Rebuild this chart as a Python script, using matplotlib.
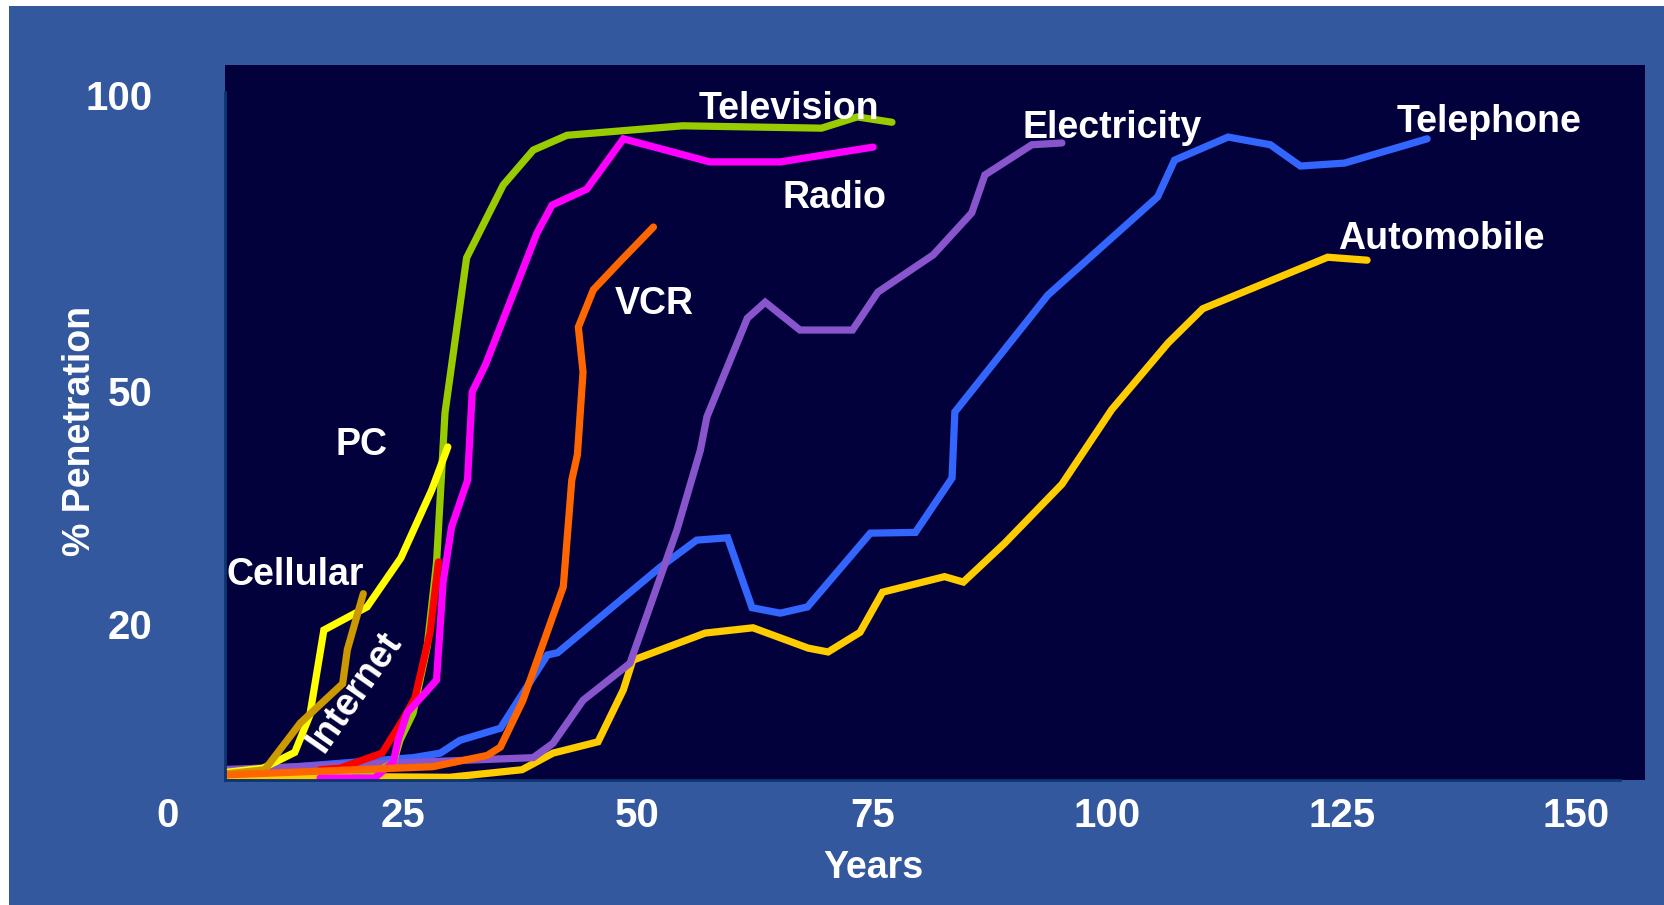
import numpy as np
import matplotlib.pyplot as plt
from matplotlib.patches import Rectangle
import matplotlib.transforms as mtransforms

plt.rcParams['font.family'] = ['Liberation Sans', 'DejaVu Sans']
plt.rcParams['font.weight'] = 'bold'

# --- Données (années depuis l'invention, % de pénétration) ---
tv_years = [20, 22.6, 24.0, 24.7, 26.1, 27.6, 28.6, 29.5, 31.8, 35.7, 38.9, 42.5, 54.8, 69.6, 73.4, 77.1]
tv_pct = [0.3, 0.7, 1.6, 4.6, 8.2, 17.0, 27.9, 47.2, 72.5, 84.8, 90.7, 93.2, 94.8, 94.4, 96.3, 95.4]

radio_years = [16.2, 22.0, 24.0, 24.5, 25.5, 27.7, 28.6, 29.3, 30.2, 31.9, 32.4, 33.8, 39.3, 40.9, 44.6, 48.5, 57.7, 65.2, 75.1]
radio_pct = [-0.4, -0.4, 1.7, 4.6, 8.3, 11.3, 12.6, 25.4, 32.5, 38.5, 49.9, 54.4, 76.7, 81.4, 84.1, 92.6, 88.7, 88.7, 91.2]

vcr_years = [5.8, 28.2, 34.0, 35.4, 37.8, 42.1, 43.0, 43.6, 44.2, 43.7, 45.3, 48.1, 51.7]
vcr_pct = [0.0, 1.1, 2.6, 3.7, 9.9, 24.8, 38.5, 41.8, 53.2, 60.8, 67.1, 71.8, 77.7]

elec_years = [5.5, 38.9, 41.0, 44.2, 49.2, 54.2, 56.7, 57.4, 61.7, 63.6, 67.3, 72.9, 75.6, 81.5, 85.6, 87.0, 92.0, 95.2]
elec_pct = [0.7, 2.3, 4.2, 9.9, 14.8, 32.1, 42.4, 46.7, 62.3, 65.0, 60.3, 60.3, 66.7, 73.0, 80.1, 86.5, 91.6, 91.9]

tel_years = [5.2, 26.1, 29.0, 31.1, 35.4, 40.4, 41.5, 52.4, 56.3, 59.6, 62.2, 65.2, 68.1, 74.8, 79.6, 83.5, 83.8,
             93.7, 105.4, 107.2, 112.9, 117.4, 120.6, 125.3, 134.1]
tel_pct = [0.3, 2.3, 2.9, 4.6, 6.2, 15.9, 16.2, 27.3, 30.8, 31.1, 22.1, 21.4, 22.2, 31.7, 31.8, 38.8, 47.3,
           66.2, 82.8, 89.0, 92.9, 91.6, 88.0, 88.5, 92.6]

auto_years = [5.5, 30.0, 37.7, 41.0, 45.8, 48.5, 49.5, 57.2, 62.3, 68.2, 70.3, 73.7, 76.1, 82.7, 84.7, 89.1,
              95.2, 100.5, 106.5, 110.2, 123.5, 127.7]
auto_pct = [-0.1, -0.3, 0.7, 2.9, 4.4, 11.3, 15.2, 18.8, 19.5, 16.8, 16.3, 18.9, 24.1, 26.1, 25.4, 30.4,
            38.0, 47.6, 58.1, 63.9, 72.6, 72.1]

pc_years = [5.8, 10.1, 13.5, 15.1, 16.6, 21.2, 24.8, 28.1, 29.8]
pc_pct = [0.3, 0.9, 3.0, 7.9, 19.2, 22.2, 28.5, 37.3, 42.8]

cell_years = [5.8, 10.3, 14.1, 18.6, 19.1, 20.8]
cell_pct = [0.1, 0.7, 6.9, 12.1, 16.6, 23.9]

internet_years = [16.2, 18.3, 22.8, 25.0, 26.3, 27.9, 28.8]
internet_pct = [0.7, 0.9, 2.9, 7.3, 10.2, 18.8, 28.0]

# (nom, années, valeurs, couleur), dans l'ordre de dessin
series = [
    ("Automobile", auto_years, auto_pct, '#FFCC00'),
    ("Telephone", tel_years, tel_pct, '#3366FF'),
    ("Electricity", elec_years, elec_pct, '#8855CC'),
    ("Television", tv_years, tv_pct, '#99CC00'),
    ("Internet", internet_years, internet_pct, '#FF0000'),
    ("Radio", radio_years, radio_pct, '#FF00FF'),
    ("PC", pc_years, pc_pct, '#FFFF00'),
    ("Cellular", cell_years, cell_pct, '#CC9900'),
    ("VCR", vcr_years, vcr_pct, '#FF6600'),
]

# étiquettes (x, y en données, rotation)
labels = {
    "Television": (66.1, 97.6, 0),
    "Radio": (71.0, 82.6, 0),
    "VCR": (51.8, 64.7, 0),
    "Electricity": (100.6, 94.5, 0),
    "Telephone": (140.7, 95.4, 0),
    "Automobile": (135.6, 75.6, 0),
    "PC": (20.6, 43.0, 0),
    "Cellular": (13.5, 26.3, 0),
    "Internet": (19.9, 11.0, 55),
}

y_ticks = [20, 50, 100]
x_ticks = [25, 50, 75, 100, 125, 150]

# --- échelle verticale non linéaire (comme sur la diapo) ---
knot_vals = np.array([-10, 0, 20, 50, 100, 120], dtype=float)
knot_pos = np.array([-75.5, 0, 151, 384, 680, 798.4])

def fwd(v):
    return np.interp(v, knot_vals, knot_pos)

def inv(p):
    return np.interp(p, knot_pos, knot_vals)

fig = plt.figure(figsize=(16.65, 9.05), dpi=100, facecolor='white')
fig.patches.append(Rectangle((9 / 1665, 0), 1 - 9 / 1665, 1 - 6 / 905, transform=fig.transFigure,
                             facecolor='#33589E', edgecolor='none', zorder=-5))

ax = fig.add_axes([225 / 1665, 1 - 780 / 905, 1420 / 1665, 715 / 905])
ax.set_facecolor('#03013B')
ax.set_yscale('function', functions=(fwd, inv))
ax.set_xlim(6.07, 157.3)
ax.set_ylim(-0.66, 105.07)

for nom, xs, ys, col in series:
    ax.plot(xs, ys, color=col, lw=5.2, solid_capstyle='round', solid_joinstyle='miter')

for nom, (lx, ly, rot) in labels.items():
    ax.text(lx, ly, nom, color='white', fontsize=27, fontweight='bold',
            ha='center', va='center', rotation=rot)

ax.set_xticks(x_ticks)
ax.set_xticklabels([str(t) for t in x_ticks])
ax.set_yticks(y_ticks)
ax.set_yticklabels([str(t) for t in y_ticks])
ax.yaxis.set_minor_locator(plt.NullLocator())
ax.xaxis.set_minor_locator(plt.NullLocator())
ax.tick_params(axis='both', length=0, colors='white', labelsize=29)
ax.tick_params(axis='y', pad=52)
ax.tick_params(axis='x', pad=12)

# le "0" en bas à gauche
trans = mtransforms.blended_transform_factory(ax.transData, ax.transAxes)
ax.annotate('0', xy=(0, 0), xycoords=trans, xytext=(0, -12), textcoords='offset points',
            ha='center', va='top', color='white', fontsize=29, fontweight='bold', annotation_clip=False)

for s in ['top', 'right']:
    ax.spines[s].set_visible(False)
for s in ['left', 'bottom']:
    ax.spines[s].set_color('#0B3570')
    ax.spines[s].set_linewidth(2)
ax.spines['bottom'].set_bounds(6.07, 154.6)
ax.spines['left'].set_bounds(-0.66, 100.5)

fig.text(80 / 1665, 1 - 431 / 905, '% Penetration', rotation=90, color='white',
         fontsize=27, fontweight='bold', ha='center', va='center')
fig.text(873 / 1665, 1 - 868 / 905, 'Years', color='white',
         fontsize=27, fontweight='bold', ha='center', va='center')

fig.savefig('out.png', dpi=100, facecolor=fig.get_facecolor())
